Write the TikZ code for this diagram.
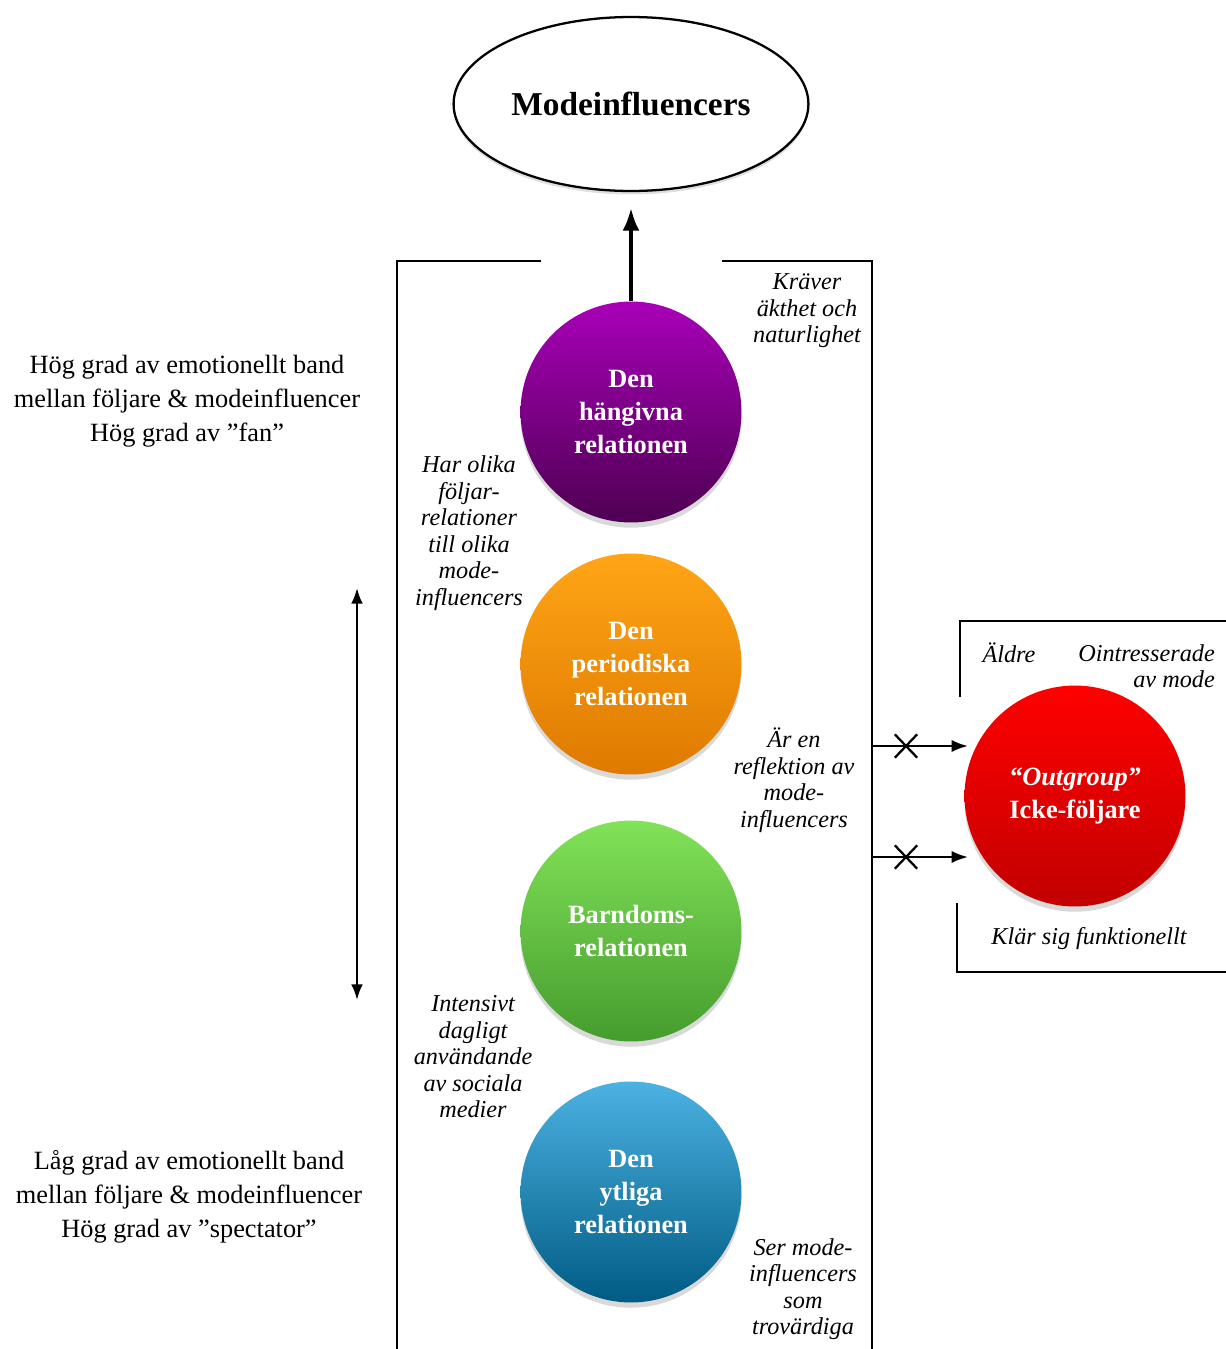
\documentclass[tikz,border=0pt]{standalone}
\usepackage{fontspec}
\setmainfont{Liberation Serif}
\usetikzlibrary{shapes.geometric, shapes.misc, shadows, arrows.meta}

\definecolor{lilatop}{HTML}{A800B8}
\definecolor{lilabot}{HTML}{4E0052}
\definecolor{orangetop}{HTML}{FFA516}
\definecolor{orangebot}{HTML}{DE7A00}
\definecolor{gronttop}{HTML}{82E258}
\definecolor{grontbot}{HTML}{459C2E}
\definecolor{blatop}{HTML}{4CB2E2}
\definecolor{blabot}{HTML}{005B84}
\definecolor{rodtop}{HTML}{FF0000}
\definecolor{rodbot}{HTML}{C20000}

\tikzset{
    relation/.style={circle, minimum size=4.42cm, inner sep=0pt, align=center, text=white,
        font=\fontsize{15}{19}\selectfont\bfseries, shading=axis,
        drop shadow={opacity=0.3, shadow xshift=0pt, shadow yshift=-3pt}},
    remark/.style={align=center, font=\fontsize{13.8}{15.1}\selectfont\itshape},
    sidetext/.style={align=center, font=\fontsize{15}{19.3}\selectfont},
    frame/.style={line width=1.6pt},
    crossmark/.style={cross out, draw, line width=1.3pt, minimum width=0.4cm, minimum height=0.42cm, inner sep=0pt}
}

\begin{document}
\begin{tikzpicture}[x=0.02cm, y=-0.02cm, >=Latex]
            \useasboundingbox (0, 0) rectangle (1226, 1349);
            \node[ellipse, draw, line width=1.3pt, minimum width=6.84cm, minimum height=3.48cm,
                fill=white, drop shadow={opacity=0.25, shadow xshift=0pt, shadow yshift=-2pt},
                font=\fontsize{19}{22}\selectfont\bfseries] (mode) at (631, 104) {Modeinfluencers};
            \node[relation, top color=lilatop, bottom color=lilabot] (hang) at (631, 412) {Den\\hängivna\\relationen};
            \node[relation, top color=orangetop, bottom color=orangebot] (period) at (631, 664) {Den\\periodiska\\relationen};
            \node[relation, top color=gronttop, bottom color=grontbot] (barn) at (631, 931) {Barndoms-\\relationen};
            \node[relation, top color=blatop, bottom color=blabot] (ytlig) at (631, 1192) {Den\\ytliga\\relationen};
            \node[relation, top color=rodtop, bottom color=rodbot] (icke) at (1075, 796) {{\itshape“Outgroup”}\\Icke-följare};
            \draw[->, line width=2.2pt, shorten >=9pt] (hang) -- (mode);
            \draw[frame] (541, 261) -- (397, 261) -- (397, 1349);
            \draw[frame] (722, 261) -- (872, 261) -- (872, 1349);
            \draw[frame] (960, 697) -- (960, 621) -- (1226, 621);
            \draw[frame] (957, 903) -- (957, 972) -- (1226, 972);
            \coordinate (out1) at (872, 746);
            \coordinate (out2) at (872, 857);
            \coordinate (in1) at (968, 746);
            \coordinate (in2) at (968, 857);
            \draw[->, line width=1.4pt] (out1) -- (in1);
            \draw[->, line width=1.4pt] (out2) -- (in2);
            \node[crossmark] (kors1) at (906, 746) {};
            \node[crossmark] (kors2) at (906, 857) {};
            \coordinate (hog) at (357, 588);
            \coordinate (lag) at (357, 1000);
            \draw[<->, line width=1.3pt] (hog) -- (lag);
            \node[sidetext] (band1) at (187, 401) {Hög grad av emotionellt band\\mellan följare \& modeinfluencer\\Hög grad av ”fan”};
            \node[sidetext] (band2) at (189, 1197) {Låg grad av emotionellt band\\mellan följare \& modeinfluencer\\Hög grad av ”spectator”};
            \node[remark] (krav) at (807, 311) {Kräver\\äkthet och\\naturlighet};
            \node[remark] (olika) at (469, 533) {Har olika\\följar-\\relationer\\till olika\\mode-\\influencers};
            \node[remark] (refl) at (794, 780) {Är en\\reflektion av\\mode-\\influencers};
            \node[remark] (intens) at (473, 1057) {Intensivt\\dagligt\\användande\\av sociala\\medier};
            \node[remark] (trov) at (803, 1289) {Ser mode-\\influencers\\som\\trovärdiga};
            \node[remark] (aldre) at (1009, 653) {Äldre};
            \node[remark, align=right, anchor=east] (ointr) at (1221, 666) {Ointresserade\\av mode};
            \node[remark] (klar) at (1089, 939) {Klär sig funktionellt};
\end{tikzpicture}
\end{document}
